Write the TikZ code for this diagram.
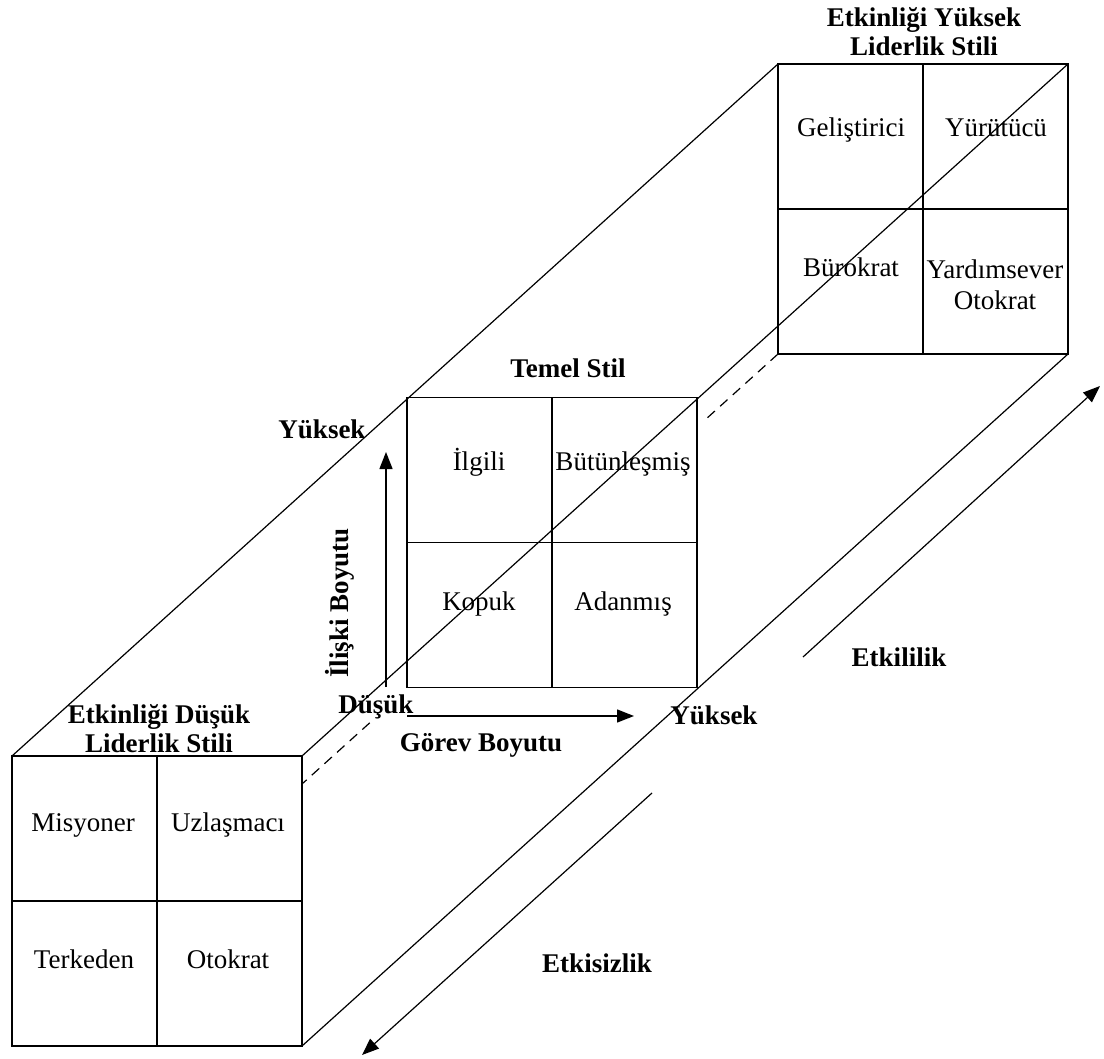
\documentclass[tikz,border=0pt]{standalone}
\usepackage{fontspec}
\setmainfont{Liberation Serif}
\usetikzlibrary{calc,arrows.meta}

\begin{document}
\begin{tikzpicture}[x=1pt, y={(0pt,-1pt)}, line width=1.2pt,
    >={Triangle[length=17pt,width=13pt]},
    grid/.style={draw, line width=1.8pt, minimum size=290pt, inner sep=0pt, outer sep=0pt},
    cell/.style={font=\fontsize{27}{31}\selectfont, inner sep=0pt, align=center},
    word/.style={cell, text height=18pt, text depth=6pt},
    lbl/.style={font=\fontsize{27}{29}\selectfont\bfseries, inner sep=0pt, align=center}]
    \useasboundingbox (0,0) rectangle (1104,1059);

    % Style squares
    \node[grid] (front) at (157,901) {};
    \node[grid] (mid) at (552,542.5) {};
    \node[grid] (back) at (923,209) {};
    \foreach \s in {front,mid,back} {
        \draw[line width=1.8pt] (\s.north) -- (\s.south);
        \draw[line width=1.8pt] (\s.west) -- (\s.east);
    }

    % Box edges
    \draw (front.north west) -- (back.north west);
    \draw (front.north east) -- (back.north east);
    \draw (front.south east) -- (back.south east);
    \draw[dash pattern=on 10pt off 7pt] (back.south west) -- ($(back.south west)!0.098!(front.south west)$);
    \draw[dash pattern=on 10pt off 7pt] ($(back.south west)!0.533!(front.south west)$) -- ($(back.south west)!0.621!(front.south west)$);

    % High effectiveness
    \node[lbl] (hiTitle) at (924,32) {Etkinliği Yüksek\\Liderlik Stili};
    \node[word] (gel) at (851,131) {Geliştirici};
    \node[word] (yur) at (996,131) {Yürütücü};
    \node[word] (bur) at (851,271) {Bürokrat};
    \node[cell] (yar) at (995,285) {Yardımsever\\Otokrat};

    % Basic style
    \node[lbl] (basic) at (568,368) {Temel Stil};
    \node[word] (ilg) at (479,465) {İlgili};
    \node[word] (but) at (623,465) {Bütünleşmiş};
    \node[word] (kop) at (479,604) {Kopuk};
    \node[word] (ada) at (623,604) {Adanmış};

    % Low effectiveness
    \node[lbl] (loTitle) at (159,729) {Etkinliği Düşük\\Liderlik Stili};
    \node[word] (mis) at (83,825) {Misyoner};
    \node[word] (uzl) at (228,825) {Uzlaşmacı};
    \node[word] (ter) at (84,962) {Terkeden};
    \node[word] (oto) at (228,962) {Otokrat};

    % Axes
    \coordinate (relLo) at (386,687);
    \coordinate (relHi) at (386,452);
    \draw[->, line width=1.4pt] (relLo) -- (relHi);
    \coordinate (taskLo) at (407,716);
    \coordinate (taskHi) at (634,716);
    \draw[->, line width=1.4pt] (taskLo) -- (taskHi);
    \node[lbl] (relHigh) at (322,429) {Yüksek};
    \node[lbl] (low) at (376,707) {Düşük};
    \node[lbl, rotate=90] (relAxis) at (340,603) {İlişki Boyutu};
    \node[lbl] (taskAxis) at (481,745) {Görev Boyutu};
    \node[lbl] (taskHigh) at (714,715) {Yüksek};

    % Effectiveness arrows
    \coordinate (effLo) at (803,657);
    \coordinate (effHi) at (1100,386);
    \draw[->] (effLo) -- (effHi);
    \node[lbl] (eff) at (899,657) {Etkililik};
    \coordinate (ineffHi) at (652,793);
    \coordinate (ineffLo) at (362,1055);
    \draw[->] (ineffHi) -- (ineffLo);
    \node[lbl] (ineff) at (597,963) {Etkisizlik};
\end{tikzpicture}
\end{document}
